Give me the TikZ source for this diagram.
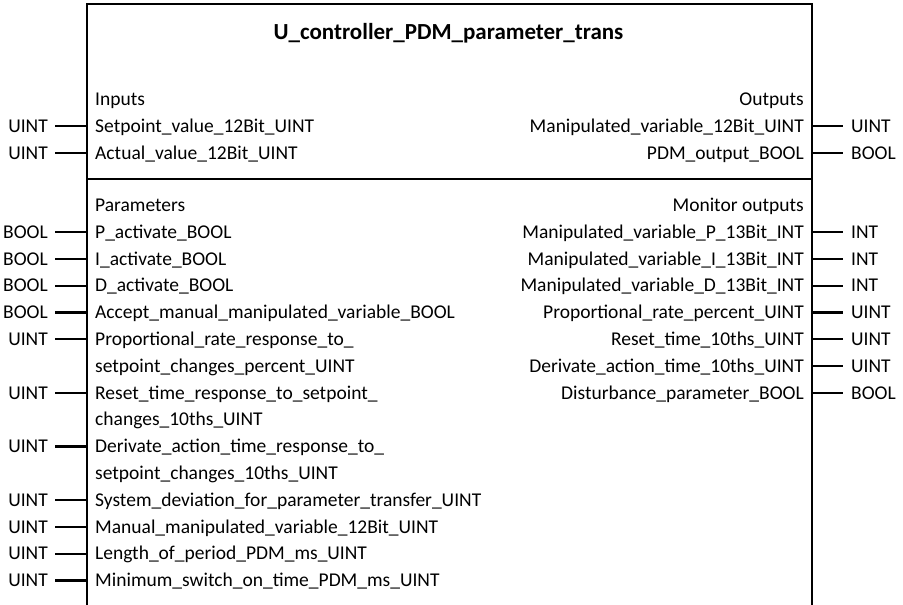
\documentclass[tikz,border=0pt]{standalone}
\usepackage{fontspec}
\setmainfont{Carlito}
\begin{document}
\begin{tikzpicture}[x=1pt,y=-1pt,
  lbl/.style={inner sep=0pt,font=\fontsize{19.5}{22}\selectfont,text height=12.6pt,text depth=0pt},
  ttl/.style={inner sep=0pt,font=\fontsize{23}{26}\selectfont\bfseries},
  frame/.style={line width=2.2pt},
  pin/.style={line width=2.2pt}]
\useasboundingbox (0,0) rectangle (903,605);
\coordinate (boxL) at (87,0);
\coordinate (boxR) at (812,0);
\draw[frame] (87,605) -- (87,4) -- (812,4) -- (812,605);
\draw[frame] (87,179) -- (812,179);
\node[ttl] (title) at (448.5,33) {U\_controller\_PDM\_parameter\_trans};
\node[lbl,anchor=west] (hin) at (95,99.5) {Inputs};
\node[lbl,anchor=west] (hpar) at (95,205.2) {Parameters};
\node[lbl,anchor=east] (hout) at (804,99.5) {Outputs};
\node[lbl,anchor=east] (hmon) at (804,205.2) {Monitor outputs};
% left pins
\foreach \y/\t/\s [count=\i] in {
  126.3/UINT/Setpoint\_value\_12Bit\_UINT,
  153.1/UINT/Actual\_value\_12Bit\_UINT,
  232/BOOL/P\_activate\_BOOL,
  258.8/BOOL/I\_activate\_BOOL,
  285.6/BOOL/D\_activate\_BOOL,
  312.4/BOOL/Accept\_manual\_manipulated\_variable\_BOOL,
  339.2/UINT/Proportional\_rate\_response\_to\_,
  392.8/UINT/Reset\_time\_response\_to\_setpoint\_,
  446.4/UINT/Derivate\_action\_time\_response\_to\_,
  500/UINT/System\_deviation\_for\_parameter\_transfer\_UINT,
  526.8/UINT/Manual\_manipulated\_variable\_12Bit\_UINT,
  553.6/UINT/Length\_of\_period\_PDM\_ms\_UINT,
  580.4/UINT/Minimum\_switch\_on\_time\_PDM\_ms\_UINT} {
  \node[lbl,anchor=west] (in\i) at (95,\y) {\s};
  \node[lbl,anchor=east] (ti\i) at (48,\y) {\t};
  \draw[pin] ([xshift=7pt]ti\i.east) -- (in\i.west -| boxL);
}
% continuation lines
\node[lbl,anchor=west] (c1) at (95,366) {setpoint\_changes\_percent\_UINT};
\node[lbl,anchor=west] (c2) at (95,419.6) {changes\_10ths\_UINT};
\node[lbl,anchor=west] (c3) at (95,473.2) {setpoint\_changes\_10ths\_UINT};
% right pins
\foreach \y/\t/\s [count=\i] in {
  126.3/UINT/Manipulated\_variable\_12Bit\_UINT,
  153.1/BOOL/PDM\_output\_BOOL,
  232/INT/Manipulated\_variable\_P\_13Bit\_INT,
  258.8/INT/Manipulated\_variable\_I\_13Bit\_INT,
  285.6/INT/Manipulated\_variable\_D\_13Bit\_INT,
  312.4/UINT/Proportional\_rate\_percent\_UINT,
  339.2/UINT/Reset\_time\_10ths\_UINT,
  366/UINT/Derivate\_action\_time\_10ths\_UINT,
  392.8/BOOL/Disturbance\_parameter\_BOOL} {
  \node[lbl,anchor=east] (out\i) at (804,\y) {\s};
  \node[lbl,anchor=west] (to\i) at (851,\y) {\t};
  \draw[pin] (out\i.east -| boxR) -- ([xshift=-8pt]to\i.west);
}
\end{tikzpicture}
\end{document}
